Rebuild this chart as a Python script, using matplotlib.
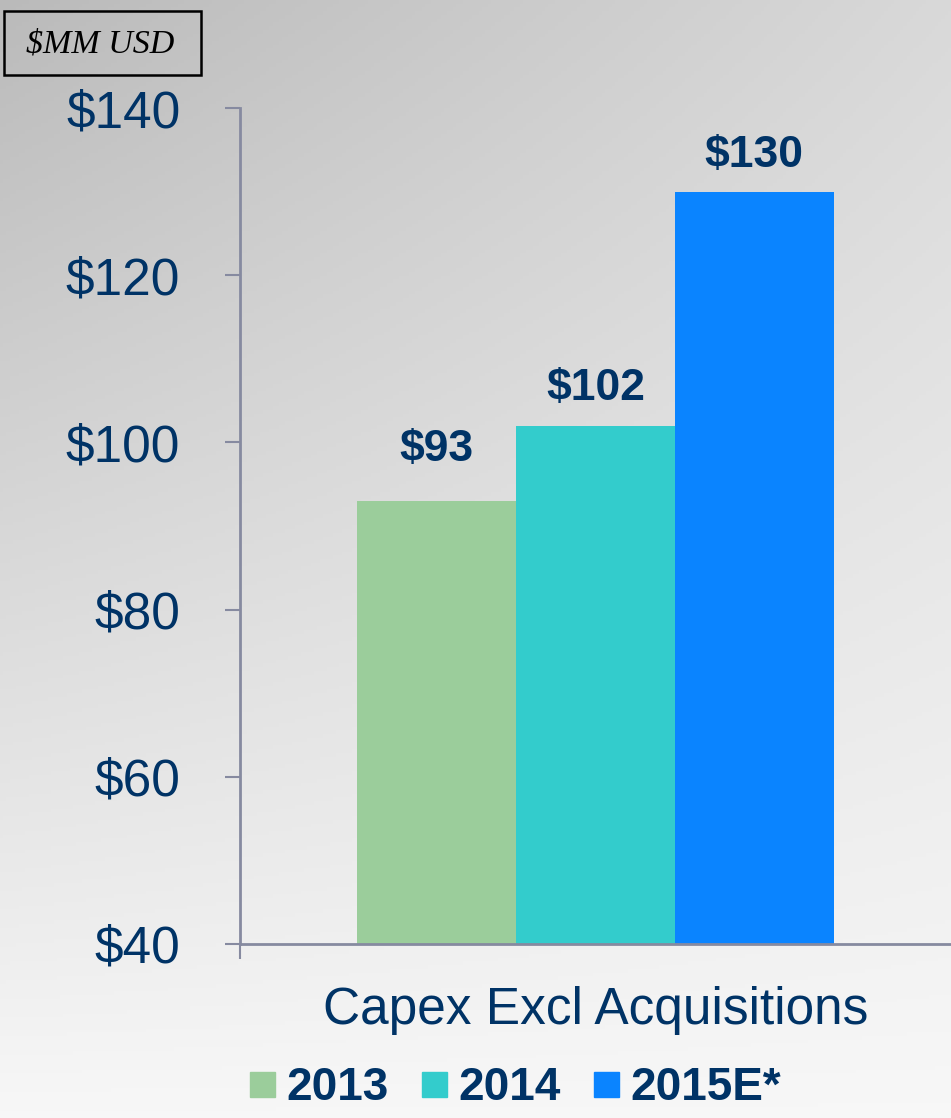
import numpy as np
import matplotlib
matplotlib.use("Agg")
import matplotlib.pyplot as plt
from matplotlib.lines import Line2D
from matplotlib.patches import Rectangle

categories = ["Capex Excl Acquisitions"]
series = ["2013", "2014", "2015E*"]
values = [93, 102, 130]
value_labels = ["$93", "$102", "$130"]
colors = ["#9bcd9b", "#33cccc", "#0a84ff"]
yticks = [40, 60, 80, 100, 120, 140]
ytick_labels = ["$40", "$60", "$80", "$100", "$120", "$140"]
label_gap = [6.1, 4.4, 4.3]

navy = "#003366"
axis_col = "#868aa0"
W, H = 951, 1118
fig = plt.figure(figsize=(W / 100, H / 100), dpi=100)
plt.rcParams['font.family'] = ['Liberation Sans', 'DejaVu Sans']

# background gradient
bg = fig.add_axes([0, 0, 1, 1], zorder=-10)
yy, xx = np.mgrid[0:1:300j, 0:1:300j]
v = 0.73 + 0.24 * yy + 0.12 * xx * (1 - yy)
v = np.clip(v, 0, 0.975)
bg.imshow(np.dstack([v, v, v]), extent=[0, 1, 0, 1], aspect='auto', origin='upper')
bg.set_axis_off()

ax = fig.add_axes([240 / W, 1 - 944 / H, 1 - 240 / W, (944 - 108) / H])
ax.patch.set_alpha(0)
bw = 0.2232
for i, (s, val, c) in enumerate(zip(series, values, colors)):
    x = (i - 1) * bw
    ax.bar(x, val - 40, bottom=40, width=bw, color=c, label=s, zorder=2)
    ax.text(x, val + label_gap[i], value_labels[i], ha='center', va='center',
            fontsize=32, fontweight='bold', color=navy)

ax.set_xlim(-0.5, 0.5)
ax.set_ylim(40, 140)
ax.set_yticks(yticks)
ax.set_yticklabels(ytick_labels, fontsize=37, color=navy)
ax.set_xticks([-0.5])
ax.set_xticklabels([""])
ax.tick_params(axis='both', direction='out', length=11, width=1.5, color=axis_col)
ax.tick_params(axis='y', pad=32)
for sp in ['top', 'right']:
    ax.spines[sp].set_visible(False)
for sp in ['left', 'bottom']:
    ax.spines[sp].set_color(axis_col)
    ax.spines[sp].set_linewidth(2)
ax.text(0, 32.1, categories[0], ha='center', va='center', fontsize=37, color=navy)

handles = [Line2D([], [], marker='s', linestyle='none', markersize=18, color=c) for c in colors]
fig.legend(handles, series, loc='center', bbox_to_anchor=(515 / W, 1 - 1088 / H), ncol=3,
           frameon=False, prop={'weight': 'bold', 'size': 33}, labelcolor=navy,
           handletextpad=0.25, columnspacing=0.72, handlelength=0.55,
           borderpad=0, borderaxespad=0)

# $MM USD box
fig.patches.append(Rectangle((4 / W, 1 - 75 / H), 197 / W, 64 / H, transform=fig.transFigure,
                             fill=False, edgecolor='black', linewidth=1.8))
fig.text(100 / W, 1 - 44 / H, "$MM USD", ha='center', va='center', fontsize=24.5,
         family=['Liberation Serif', 'DejaVu Serif'], style='italic', color='black')

fig.savefig("out.png", dpi=100)
